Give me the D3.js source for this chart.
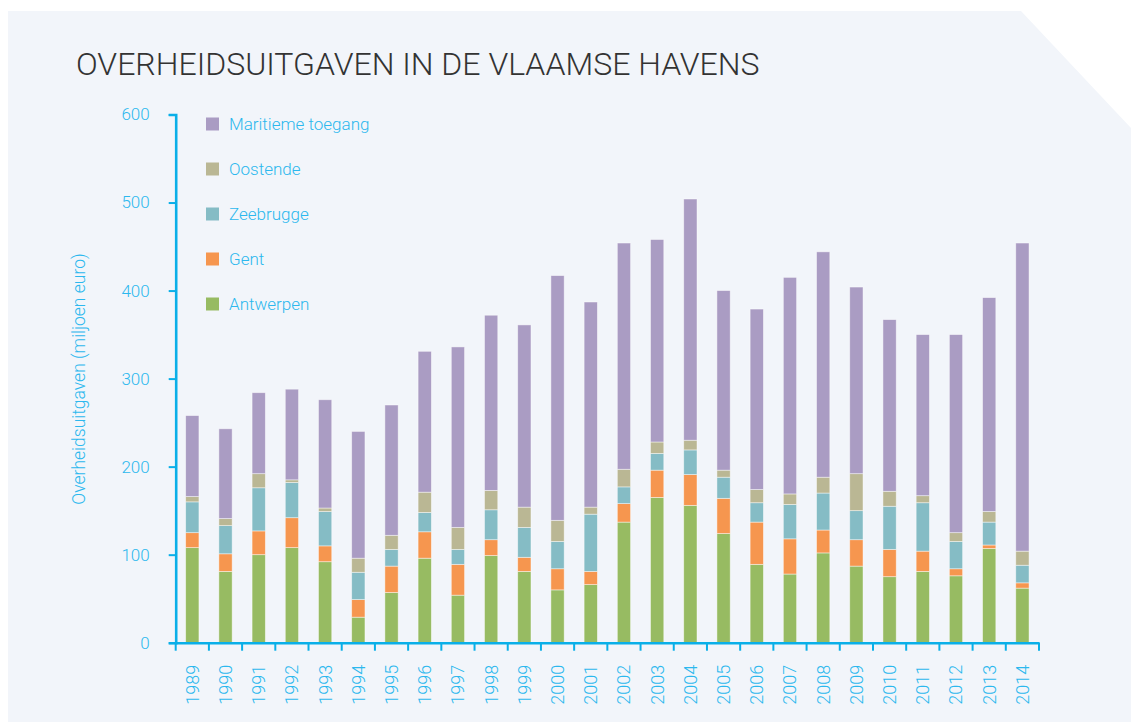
<!DOCTYPE html>
<html><head><meta charset="utf-8">
<script src="https://cdn.jsdelivr.net/npm/d3@7"></script>
<style>
html,body{margin:0;padding:0;background:#fff;}
svg{display:block;}
text{font-family:Roboto,"Liberation Sans",Arial,sans-serif;font-weight:300;}
</style></head>
<body>
<svg id="chart" width="1131" height="722"></svg>
<script>
const years = ["1989","1990","1991","1992","1993","1994","1995","1996","1997","1998","1999","2000","2001","2002","2003","2004","2005","2006","2007","2008","2009","2010","2011","2012","2013","2014"];
const antwerpen = [108,81,100,108,92,29,57,96,54,99,81,60,66,137,165,156,124,89,78,102,87,75,81,76,107,62];
const gent      = [17,20,27,34,18,20,30,30,35,18,16,24,15,21,31,35,40,48,40,26,30,31,23,8,4,6];
const zeebrugge = [35,32,49,40,39,31,19,22,17,34,34,31,65,19,19,28,24,22,39,42,33,49,55,31,26,20];
const oostende  = [6,8,16,3,4,16,16,23,25,22,23,24,8,20,13,11,8,15,12,18,42,17,8,10,12,16];
const maritieme = [92,102,92,103,123,144,148,160,205,199,207,278,233,257,230,274,204,205,246,256,212,195,183,225,243,350];
const seriesNames = ["Antwerpen","Gent","Zeebrugge","Oostende","Maritieme toegang"];
const seriesValues = [antwerpen, gent, zeebrugge, oostende, maritieme];
const seriesColors = ["#97bb62","#f6964f","#85bcc5","#bab794","#aa9cc3"];
const yTicks = [0,100,200,300,400,500,600];
const title = "OVERHEIDSUITGAVEN IN DE VLAAMSE HAVENS";
const yLabel = "Overheidsuitgaven (miljoen euro)";

const svg = d3.select("#chart");
const cyan = "#0aafe8";
const textCyan = "#2cb8ee";

// background panel
svg.append("path")
  .attr("d","M8,11 L1021,11 L1131,128 L1131,722 L8,722 Z")
  .attr("fill","#f2f5fa");

// title
const t = svg.append("text").attr("x",76).attr("y",75)
  .attr("fill","#333").style("font-size","29px").text(title);
(function fit(){ const w=t.node().getComputedTextLength(); if(w>0){ t.style("font-size",(29*684/w)+"px"); } })();

const table = years.map((y,i)=>{ const o={year:y}; seriesNames.forEach((s,j)=>o[s]=seriesValues[j][i]); return o; });
const stack = d3.stack().keys(seriesNames)(table);

const x = d3.scaleBand().domain(years).range([175.7,1039]).paddingInner(0.6).paddingOuter(0.3);
const y = d3.scaleLinear().domain([0,600]).range([642.7,114.5]);
const color = d3.scaleOrdinal().domain(seriesNames).range(seriesColors);

// bars
svg.append("g").selectAll("g").data(stack).join("g")
  .attr("fill",d=>color(d.key))
  .selectAll("rect").data(d=>d).join("rect")
  .attr("x",d=>x(d.data.year))
  .attr("width",x.bandwidth())
  .attr("y",d=>y(d[1]))
  .attr("height",d=>y(d[0])-y(d[1]))
  .attr("stroke","rgba(255,255,255,0.55)")
  .attr("stroke-width",0.8);

// y axis
const ya = svg.append("g").attr("transform","translate(175.7,0)")
  .call(d3.axisLeft(y).tickValues(yTicks).tickSize(7).tickSizeOuter(7).tickPadding(19));
ya.select(".domain").attr("stroke",cyan).attr("stroke-width",2.6).attr("fill","none");
ya.selectAll(".tick line").attr("stroke",cyan).attr("stroke-width",2);
ya.selectAll(".tick text").attr("fill",textCyan).style("font-size","17px").style("font-family",null);

// x axis
const xa = svg.append("g").attr("transform","translate(0,642.7)")
  .call(d3.axisBottom(x).tickSize(0).tickSizeOuter(0).tickPadding(0));
xa.select(".domain").attr("stroke",cyan).attr("stroke-width",2.6);
xa.selectAll(".tick text")
  .attr("fill",textCyan).style("font-size","18px").style("font-family",null)
  .attr("text-anchor","end")
  .attr("transform","translate(0,22) rotate(-90)")
  .attr("x",0).attr("y",0).attr("dy","0.36em");
// boundary ticks
const step = x.step();
const bounds = years.map(d=>x(d)+x.bandwidth()/2-step/2).concat([x(years[years.length-1])+x.bandwidth()/2+step/2]);
xa.append("g").selectAll("line").data(bounds).join("line")
  .attr("x1",d=>d).attr("x2",d=>d).attr("y1",0).attr("y2",8)
  .attr("stroke",cyan).attr("stroke-width",2);

// y label
svg.append("text")
  .attr("transform","translate(85,379) rotate(-90)")
  .attr("text-anchor","middle").attr("fill",textCyan)
  .style("font-size","17.5px").text(yLabel);

// legend
const legendOrder = seriesNames.slice().reverse();
const lg = svg.append("g").selectAll("g").data(legendOrder).join("g")
  .attr("transform",(d,i)=>`translate(206,${124+i*45})`);
lg.append("rect").attr("x",0).attr("y",-6.5).attr("width",13).attr("height",13).attr("fill",d=>color(d));
lg.append("text").attr("x",23).attr("y",6).attr("fill",textCyan).style("font-size","17px").text(d=>d);
</script>
</body></html>
